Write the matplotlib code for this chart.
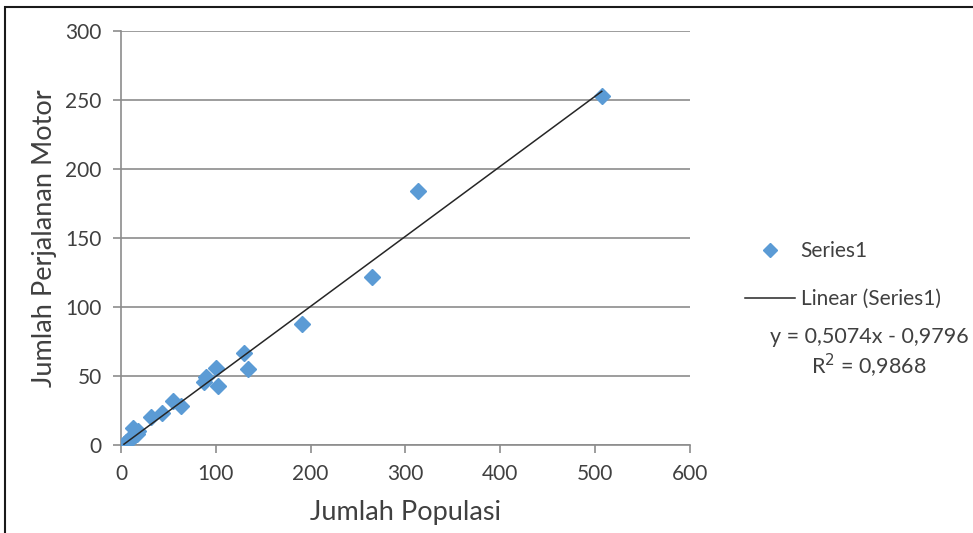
import matplotlib
matplotlib.use("Agg")
import matplotlib.pyplot as plt
import numpy as np
from matplotlib.lines import Line2D
from matplotlib.patches import Rectangle

plt.rcParams['font.family'] = ['Lato', 'DejaVu Sans']

populasi = [3, 5, 7, 9, 10, 12, 13, 15, 17, 18, 32, 43, 55, 63, 87, 90, 100, 102, 130, 134, 191, 265, 313, 507]
perjalanan = [1, 2, 3, 4, 6, 5, 12, 7, 8, 10, 20, 23, 32, 28, 46, 49, 56, 43, 67, 55, 88, 122, 184, 253]
slope = 0.5074
intercept = -0.9796
eq_text = "y = 0,5074x - 0,9796"
r2_text = "R$^2$ = 0,9868"
x_ticks = [0, 100, 200, 300, 400, 500, 600]
y_ticks = [0, 50, 100, 150, 200, 250, 300]

fig = plt.figure(figsize=(9.73, 5.33), dpi=100)
ax = fig.add_axes([0.1244, 0.1651, 0.5847, 0.7767])

blue = '#5B9BD5'
grey = '#8C8C8C'
txt = '#404040'

ax.plot(populasi, perjalanan, linestyle='none', marker='D', markersize=8,
        color=blue, zorder=3)
xs = np.array([min(populasi), max(populasi)])
ax.plot(xs, slope * xs + intercept, color='#262626', linewidth=1.1, zorder=4)

ax.set_xlim(0, 600)
ax.set_ylim(0, 300)
ax.set_xticks(x_ticks)
ax.set_yticks(y_ticks)
ax.yaxis.grid(True, color=grey, linewidth=1.2)
ax.set_axisbelow(True)
for s in ['top', 'right']:
    ax.spines[s].set_visible(False)
for s in ['left', 'bottom']:
    ax.spines[s].set_color(grey)
    ax.spines[s].set_linewidth(1.2)
ax.tick_params(axis='both', colors=grey, length=6, width=1.2, labelsize=15,
               labelcolor=txt, direction='out')
ax.tick_params(axis='x', pad=8)
ax.tick_params(axis='y', pad=8)
ax.set_xlabel("Jumlah Populasi", fontsize=19.5, color=txt, labelpad=11)
ax.set_ylabel("Jumlah Perjalanan Motor", fontsize=19.5, color=txt, labelpad=6)

handles = [Line2D([], [], linestyle='none', marker='D', markersize=7, color=blue),
           Line2D([], [], color='#262626', linewidth=1.1)]
leg = fig.legend(handles, ["Series1", "Linear (Series1)"], loc='upper left',
                 bbox_to_anchor=(0.766, 0.548), frameon=False, fontsize=15,
                 labelspacing=1.35, handlelength=2.4, handletextpad=0.25,
                 borderpad=0, borderaxespad=0)
for t in leg.get_texts():
    t.set_color(txt)
fig.text(0.893, 0.368, eq_text, fontsize=15.5, color=txt, ha='center', va='center')
fig.text(0.893, 0.313, r2_text, fontsize=15.5, color=txt, ha='center', va='center')

fig.patches.append(Rectangle((5 / 973, -0.01), 1.0, 1 - 7 / 533 + 0.01,
                             transform=fig.transFigure, fill=False,
                             edgecolor='#1a1a1a', linewidth=1.5))

fig.savefig("out.png", dpi=100)
